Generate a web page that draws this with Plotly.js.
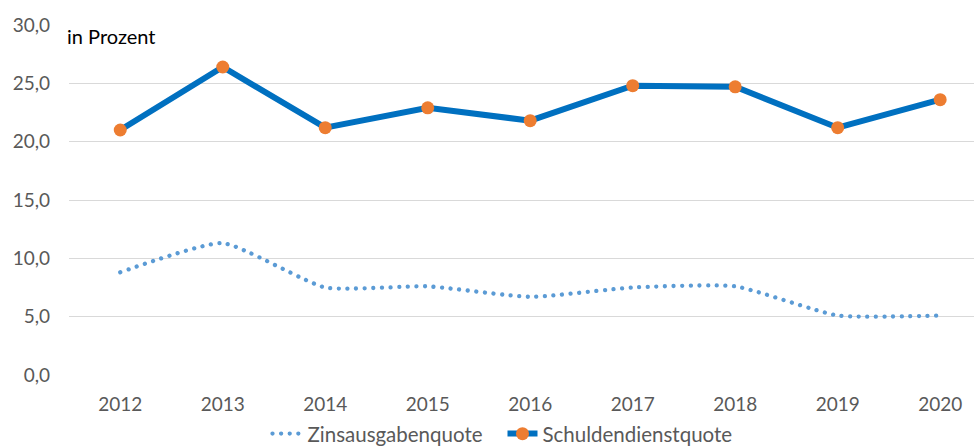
<!DOCTYPE html>
<html><head><meta charset="utf-8">
<script src="https://cdn.plot.ly/plotly-3.0.1.min.js"></script>
<style>
body{margin:0;background:#fff}#chart{width:974px;height:447px}
.scatterlayer .trace:first-child path.js-line,
.legend .traces:first-child path.js-line{stroke-linecap:round !important}
</style>
</head><body><div id="chart"></div>
<script>
const years = ["2012","2013","2014","2015","2016","2017","2018","2019","2020"];
const zinsausgabenquote = [8.8, 11.3, 7.5, 7.6, 6.7, 7.5, 7.6, 5.1, 5.1];
const schuldendienstquote = [21.0, 26.4, 21.2, 22.9, 21.8, 24.8, 24.7, 21.2, 23.6];
const yTicks = [0, 5, 10, 15, 20, 25, 30];

const traces = [
  {x: years, y: zinsausgabenquote, name: "Zinsausgabenquote", type: "scatter", mode: "lines",
   line: {color: "#5B9BD5", width: 4.3, shape: "spline", smoothing: 0.5, dash: "0.01px,8.6px"}},
  {x: years, y: schuldendienstquote, name: "Schuldendienstquote", type: "scatter", mode: "lines+markers",
   line: {color: "#0070C0", width: 6},
   marker: {color: "#ED7D31", size: 13}}
];
const layout = {
  width: 974, height: 447,
  margin: {l: 69, r: 0, t: 25, b: 72, autoexpand: false},
  paper_bgcolor: "#fff", plot_bgcolor: "#fff",
  separators: ",.",
  font: {family: "Lato, 'Noto Sans', sans-serif", size: 19, color: "#595959"},
  xaxis: {type: "category", range: [-0.5, 8.33], showgrid: false, zeroline: false, showline: false,
          ticks: "", ticklabelstandoff: 16, tickfont: {size: 19, color: "#595959"}},
  yaxis: {range: [0, 30], tickvals: yTicks, tickformat: ".1f", showgrid: true, gridcolor: "#D9D9D9",
          gridwidth: 1, zeroline: false, showline: false, ticks: "", ticklabelstandoff: 18,
          tickfont: {size: 19, color: "#595959"}},
  showlegend: true,
  legend: {orientation: "h", x: 0.479, xanchor: "center", y: -0.168, yanchor: "middle", itemwidth: 30,
           entrywidth: 190, font: {size: 20.5, color: "#595959"}, traceorder: "normal"},
  annotations: [{text: "in Prozent", xref: "paper", yref: "paper", x: -0.004, y: 0.97, xanchor: "left", yanchor: "middle",
                 showarrow: false, font: {size: 20, color: "#000"}}]
};
Plotly.newPlot("chart", traces, layout, {displayModeBar: false, staticPlot: true});
</script></body></html>
